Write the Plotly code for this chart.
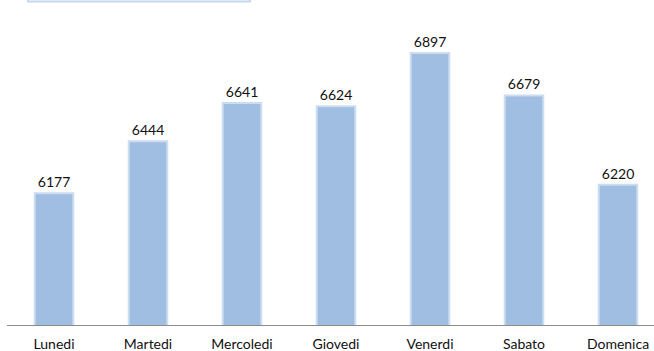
import plotly.graph_objects as go

giorni = ["Lunedi", "Martedi", "Mercoledi", "Giovedi", "Venerdi", "Sabato", "Domenica"]
valori = [6177, 6444, 6641, 6624, 6897, 6679, 6220]

fig = go.Figure()
fig.add_trace(go.Bar(
    x=giorni,
    y=valori,
    width=0.41,
    marker=dict(color="#A0BDE2", line=dict(color="#CCDCF1", width=2)),
    text=[str(v) for v in valori],
    textposition="outside",
    textfont=dict(family="Lato, Liberation Sans, sans-serif", size=14, color="#111111"),
    cliponaxis=False,
))

fig.update_layout(
    width=654, height=351,
    margin=dict(l=7, r=0, t=33, b=26, autoexpand=False),
    paper_bgcolor="white",
    plot_bgcolor="white",
    showlegend=False,
    font=dict(family="Lato, Liberation Sans, sans-serif", size=14, color="#111111"),
    xaxis=dict(
        range=[-0.5, -0.5 + 647 / 94],
        automargin=False,
        showgrid=False,
        showline=True,
        linecolor="#8C8C8C",
        linewidth=1,
        ticks="",
        ticklabelstandoff=6,
        tickfont=dict(size=14),
    ),
    yaxis=dict(
        range=[5500, 7000],
        automargin=False,
        visible=False,
        showgrid=False,
    ),
    shapes=[dict(
        type="rect", xref="paper", yref="paper",
        x0=21 / 647, x1=243 / 647,
        y0=1 + 31.5 / 292, y1=1 + 60 / 292,
        line=dict(color="#C6D6EE", width=2),
        fillcolor="white",
    )],
)

fig.write_html(
    "out.html",
    config={"displayModeBar": False},
    post_script="document.body.style.margin='0px';document.body.style.overflow='hidden';",
)
